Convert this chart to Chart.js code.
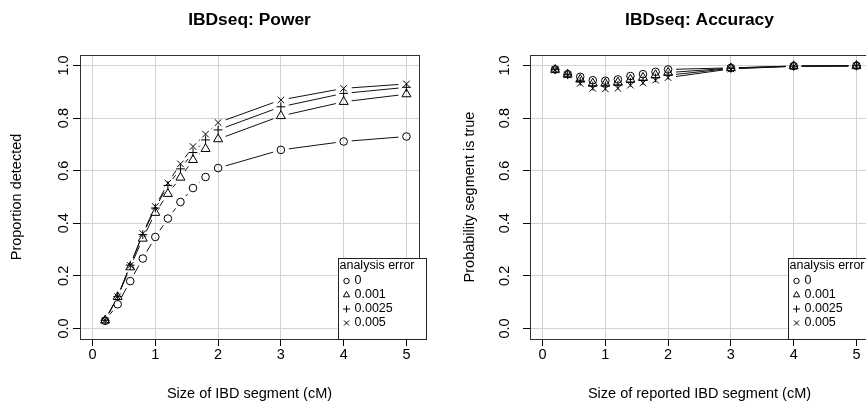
<!DOCTYPE html>
<html lang="en">
<head>
<meta charset="UTF-8">
<title>IBDseq: Power / Accuracy</title>
<script src="https://cdn.jsdelivr.net/npm/chart.js"></script>
<style>
  body { margin: 0; background: #fff; overflow: hidden; width: 866px; height: 412px; }
  .panel { position: absolute; top: 0; }
  #left { left: 0; }
  #right { left: 433px; }
</style>
</head>
<body>
<div class="panel" id="left"><canvas id="powerChart" width="433" height="412"></canvas></div>
<div class="panel" id="right"><canvas id="accChart" width="460" height="412"></canvas></div>

<script>
// segment sizes (cM)
const segSizes = [0.2, 0.4, 0.6, 0.8, 1.0, 1.2, 1.4, 1.6, 1.8, 2, 3, 4, 5];
const xTicks = [0, 1, 2, 3, 4, 5];
const yTicks = [0, 0.2, 0.4, 0.6, 0.8, 1.0];

const errLabels = ['0', '0.001', '0.0025', '0.005'];
const errStyles = ['circle', 'triangle', 'cross', 'crossRot'];

// power: proportion detected
const power0    = [0.029, 0.092, 0.180, 0.266, 0.348, 0.418, 0.481, 0.534, 0.576, 0.610, 0.679, 0.711, 0.730];
const power001  = [0.031, 0.120, 0.233, 0.342, 0.440, 0.512, 0.574, 0.641, 0.683, 0.720, 0.808, 0.862, 0.891];
const power0025 = [0.031, 0.121, 0.241, 0.357, 0.458, 0.544, 0.607, 0.669, 0.717, 0.755, 0.843, 0.894, 0.917];
const power005  = [0.031, 0.121, 0.240, 0.361, 0.464, 0.553, 0.626, 0.692, 0.739, 0.783, 0.869, 0.913, 0.930];

// accuracy: probability segment is true
const acc0    = [0.985, 0.967, 0.957, 0.944, 0.942, 0.947, 0.960, 0.967, 0.976, 0.985, 0.991, 0.998, 0.999];
const acc001  = [0.984, 0.966, 0.947, 0.932, 0.932, 0.936, 0.947, 0.954, 0.964, 0.973, 0.990, 0.998, 0.999];
const acc0025 = [0.984, 0.965, 0.940, 0.922, 0.922, 0.925, 0.936, 0.943, 0.953, 0.963, 0.989, 0.997, 0.999];
const acc005  = [0.983, 0.964, 0.932, 0.913, 0.911, 0.913, 0.925, 0.934, 0.944, 0.954, 0.987, 0.997, 0.998];

Chart.defaults.font.family = "'Liberation Sans', Arial, Helvetica, sans-serif";
Chart.defaults.color = '#000';

const GAP = 8;
const pointRadius = { circle: 3.8, triangle: 5.2, cross: 4.4, crossRot: 4.6 };
const legendRadius = { circle: 2.7, triangle: 3.6, cross: 3.5, crossRot: 3.6 };

// R-like look: gapped lines (type = "b"), box, rotated y labels, legend
const rStyle = {
  id: 'rStyle',
  beforeDatasetsDraw(chart) {
    const ctx = chart.ctx;
    ctx.save();
    ctx.strokeStyle = '#111';
    ctx.lineWidth = 1;
    chart.data.datasets.forEach((ds, i) => {
      const pts = chart.getDatasetMeta(i).data;
      for (let k = 1; k < pts.length; k++) {
        const a = pts[k - 1], b = pts[k];
        const dx = b.x - a.x, dy = b.y - a.y;
        const d = Math.hypot(dx, dy);
        if (d <= 2 * GAP) continue;
        const ux = dx / d, uy = dy / d;
        ctx.beginPath();
        ctx.moveTo(a.x + ux * GAP, a.y + uy * GAP);
        ctx.lineTo(b.x - ux * GAP, b.y - uy * GAP);
        ctx.stroke();
      }
    });
    ctx.restore();
  },
  afterDraw(chart, args, opts) {
    const ctx = chart.ctx;
    const area = chart.chartArea;
    const yScale = chart.scales.y;
    ctx.save();

    // plot box
    ctx.strokeStyle = '#333';
    ctx.lineWidth = 1;
    ctx.strokeRect(Math.round(area.left) + 0.5, Math.round(area.top) + 0.5,
      Math.round(area.right - area.left), Math.round(area.bottom - area.top));

    // y tick labels, parallel to the axis
    ctx.fillStyle = '#000';
    ctx.font = "14.5px 'Liberation Sans', Arial, sans-serif";
    ctx.textAlign = 'center';
    ctx.textBaseline = 'middle';
    yTicks.forEach(v => {
      const y = yScale.getPixelForValue(v);
      ctx.save();
      ctx.translate(area.left - opts.labelOffset, y);
      ctx.rotate(-Math.PI / 2);
      ctx.fillText(v.toFixed(1), 0, 0);
      ctx.restore();
    });

    // legend
    const lx = area.right - 81.5, ly = area.bottom - 81;
    const lw = 88, lh = 81;
    ctx.fillStyle = '#fff';
    ctx.fillRect(lx, ly, lw, lh);
    ctx.strokeStyle = '#222';
    ctx.strokeRect(Math.round(lx) + 0.5, Math.round(ly) + 0.5, lw, lh);
    ctx.fillStyle = '#000';
    ctx.textAlign = 'left';
    ctx.font = "12.5px 'Liberation Sans', Arial, sans-serif";
    ctx.fillText('analysis error', lx + 2, ly + 8);
    errLabels.forEach((lab, i) => {
      const y = ly + 23 + i * 14;
      ctx.strokeStyle = '#000';
      ctx.fillStyle = 'rgba(0,0,0,0)';
      Chart.helpers.drawPoint(ctx, {
        pointStyle: errStyles[i], radius: legendRadius[errStyles[i]], rotation: 0, borderWidth: 1
      }, lx + 9, y);
      ctx.fillStyle = '#000';
      ctx.fillText(lab, lx + 17, y);
    });
    ctx.restore();
  }
};

function makeChart(id, title, yTitle, xTitle, series, cfg) {
  const datasets = series.map((vals, i) => ({
    label: errLabels[i],
    data: segSizes.map((x, k) => ({ x: x, y: vals[k] })),
    showLine: false,
    pointStyle: errStyles[i],
    pointRadius: pointRadius[errStyles[i]],
    pointHoverRadius: pointRadius[errStyles[i]],
    pointBorderWidth: 1,
    borderColor: '#000',
    backgroundColor: 'rgba(0,0,0,0)'
  }));

  return new Chart(document.getElementById(id), {
    type: 'scatter',
    data: { datasets: datasets },
    options: {
      responsive: false,
      animation: false,
      layout: { padding: { left: 0, right: cfg.padRight, top: 0, bottom: 0 } },
      plugins: {
        legend: { display: false },
        tooltip: { enabled: false },
        title: {
          display: true,
          text: title,
          fullSize: false,
          font: { size: 17.4, weight: 'bold' },
          padding: { top: 9.5, bottom: 24.6 }
        },
        rStyle: { labelOffset: cfg.labelOffset }
      },
      scales: {
        x: {
          type: 'linear',
          min: -0.2,
          max: 5.2,
          afterBuildTicks: s => { s.ticks = xTicks.map(v => ({ value: v })); },
          afterFit: s => { s.height = 73; },
          grid: { color: '#d3d3d3', tickColor: '#000', tickLength: 7 },
          border: { display: false },
          ticks: { font: { size: 14.5 }, padding: 0, autoSkip: false, maxRotation: 0, callback: v => String(v) },
          title: { display: true, text: xTitle, font: { size: 14.5 }, padding: { top: 0, bottom: 9.3 } }
        },
        y: {
          type: 'linear',
          min: -0.04,
          max: 1.04,
          afterBuildTicks: s => { s.ticks = yTicks.map(v => ({ value: v })); },
          afterFit: s => { s.width = cfg.yWidth; },
          grid: { color: '#d3d3d3', tickColor: '#000', tickLength: 7 },
          border: { display: false },
          ticks: { display: false },
          title: { display: true, text: yTitle, font: { size: 14.5 }, padding: { top: cfg.yTitlePad, bottom: 0 } }
        }
      }
    },
    plugins: [rStyle]
  });
}

makeChart('powerChart', 'IBDseq: Power', 'Proportion detected', 'Size of IBD segment (cM)',
  [power0, power001, power0025, power005],
  { padRight: 14, yWidth: 80, yTitlePad: 8.3, labelOffset: 16 });

makeChart('accChart', 'IBDseq: Accuracy', 'Probability segment is true', 'Size of reported IBD segment (cM)',
  [acc0, acc001, acc0025, acc005],
  { padRight: 24, yWidth: 97, yTitlePad: 28.3, labelOffset: 25 });
</script>
</body>
</html>
